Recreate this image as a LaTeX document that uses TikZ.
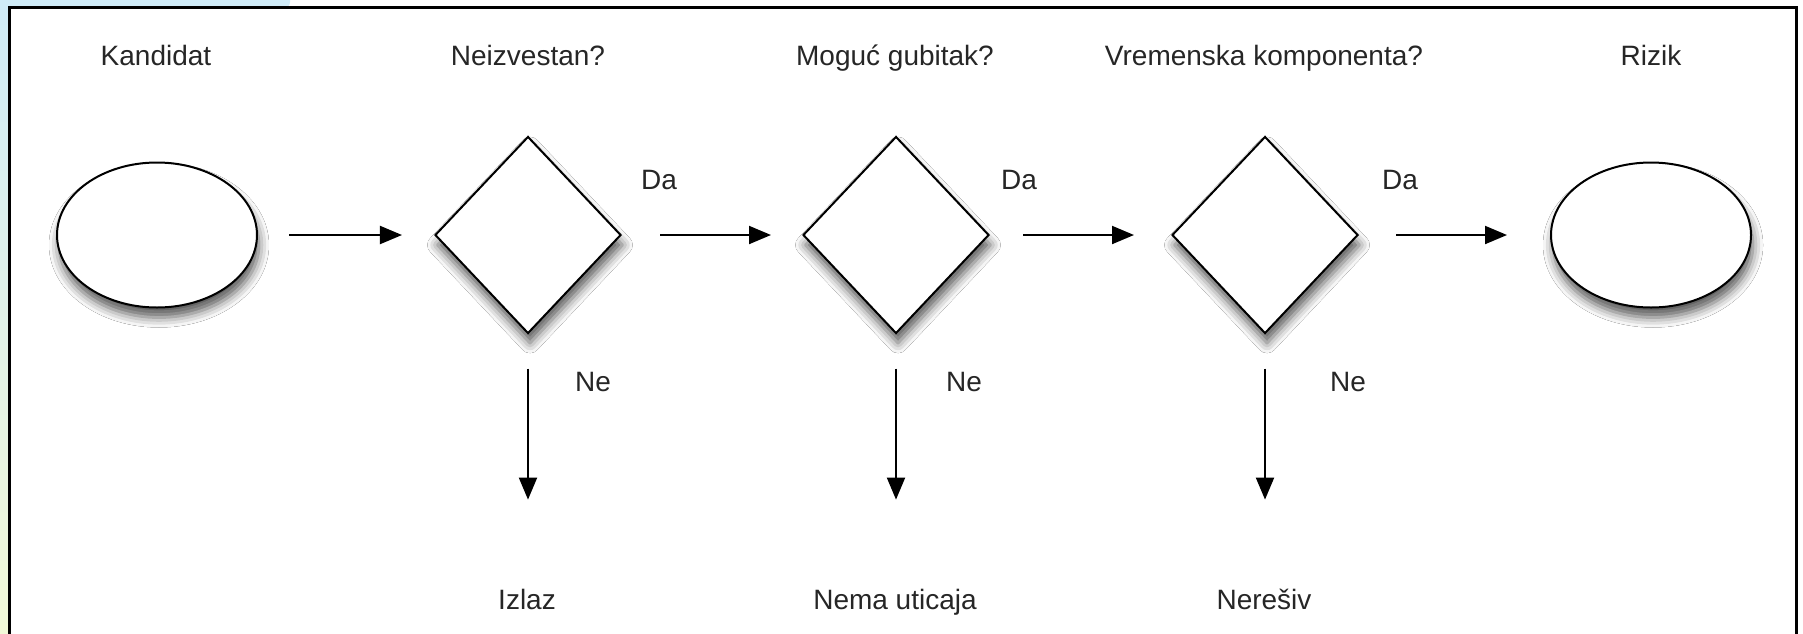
\documentclass[tikz,border=0pt]{standalone}
\usepackage{fontspec}
\setmainfont{Liberation Sans}
\usepackage{tikz}
\usetikzlibrary{shapes.geometric,arrows.meta,shadows.blur}
\definecolor{frameblue}{RGB}{208,236,248}
\definecolor{frameyellow}{RGB}{242,249,216}

\begin{document}
\begin{tikzpicture}[
        x=0.5pt, y=-0.5pt,
        every node/.style={font=\fontsize{14}{17}\selectfont, text=black!85, inner sep=0pt},
        terminal/.style={draw, ellipse, line width=1pt, fill=white, minimum width=100pt, minimum height=72.5pt,
            blur shadow={shadow xshift=1pt, shadow yshift=-5pt, shadow blur radius=5pt, shadow opacity=65}},
        decision/.style={draw, diamond, line width=1pt, fill=white, minimum width=93pt, minimum height=98.5pt,
            blur shadow={shadow xshift=1pt, shadow yshift=-5pt, shadow blur radius=5pt, shadow opacity=65}},
        title/.style={anchor=base, text height=10.5pt, text depth=3pt},
        answer/.style={anchor=base},
        flow/.style={draw=black, line width=1pt, -{Triangle[length=11pt,width=9pt]}}
    ]
    % frame
    \useasboundingbox (0,0) rectangle (1803,633);
    \fill[white] (0,0) rectangle (1803,633);
    \shade[top color=frameblue, bottom color=frameyellow] (0,0) rectangle (9,633);
    \fill[frameblue, rounded corners=3pt] (0,-10) rectangle (290,8);
    \draw[line width=1.75pt] (9.5,7.5) rectangle (1796.5,660);

    % shapes
    \node[terminal] (cand) at (157,235) {};
    \node[decision] (q_unknown) at (528,235) {};
    \node[decision] (q_loss) at (896,235) {};
    \node[decision] (q_time) at (1265,235) {};
    \node[terminal] (risk) at (1651,235) {};

    % titles
    \node[title] (t_cand) at (156,65) {Kandidat};
    \node[title] (t_unknown) at (528,65) {Neizvestan?};
    \node[title] (t_loss) at (895,65) {Moguć gubitak?};
    \node[title] (t_time) at (1264,65) {Vremenska komponenta?};
    \node[title] (t_risk) at (1651,65) {Rizik};

    % outcomes
    \node[title] (out_exit) at (527,609) {Izlaz};
    \node[title] (out_none) at (895,609) {Nema uticaja};
    \node[title] (out_unsolved) at (1264,609) {Nerešiv};

    % answers
    \node[answer] (da_1) at (659,189) {Da};
    \node[answer] (da_2) at (1019,189) {Da};
    \node[answer] (da_3) at (1400,189) {Da};
    \node[answer] (ne_1) at (593,391) {Ne};
    \node[answer] (ne_2) at (964,391) {Ne};
    \node[answer] (ne_3) at (1348,391) {Ne};

    % connectors
    \draw[flow, shorten <=15.5pt, shorten >=16pt] (cand) -- (q_unknown);
    \draw[flow, shorten <=19pt, shorten >=15.5pt] (q_unknown) -- (q_loss);
    \draw[flow, shorten <=16.5pt, shorten >=18.5pt] (q_loss) -- (q_time);
    \draw[flow, shorten <=18.5pt, shorten >=21.5pt] (q_time) -- (risk);
    \draw[flow, shorten <=17pt, shorten >=44pt] (q_unknown.south) -- (q_unknown.south |- out_exit.north);
    \draw[flow, shorten <=17pt, shorten >=44pt] (q_loss.south) -- (q_loss.south |- out_none.north);
    \draw[flow, shorten <=17pt, shorten >=44pt] (q_time.south) -- (q_time.south |- out_unsolved.north);
\end{tikzpicture}
\end{document}
